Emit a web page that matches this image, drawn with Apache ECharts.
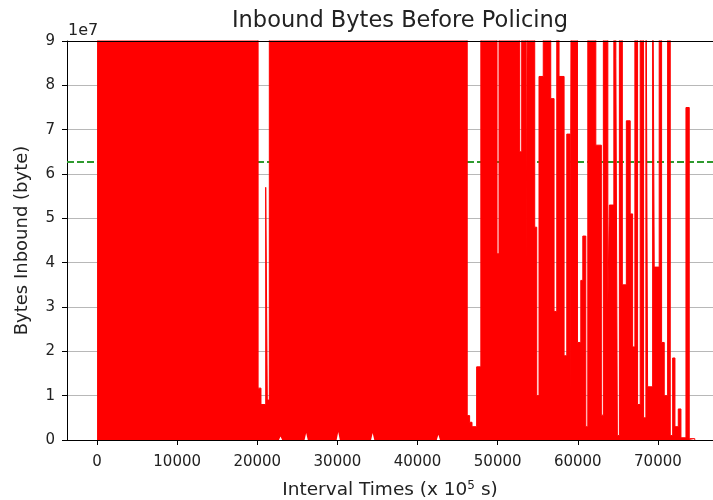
<!DOCTYPE html>
<html>
<head>
<meta charset="utf-8">
<script src="https://cdn.jsdelivr.net/npm/echarts@6/dist/echarts.min.js"></script>
<style>
  html, body { margin: 0; padding: 0; background: #ffffff; }
  #chart { width: 713px; height: 500px; }
</style>
</head>
<body>
<div id="chart"></div>
<script>
// Upper envelope of the inbound-byte trace.
// Each value holds from its interval time until the next one.
const intervalTimes = [
  0, 20100, 20460, 21050, 21250, 21500,
  46200, 46500, 46800, 47375, 47900,
  49920, 50170, 52750, 53000, 53550, 53750,
  54625, 54875, 55160, 55690, 56625, 57040, 57375, 57660, 58290, 58625,
  59040, 59190, 59960, 60375, 60625, 61000, 61250, 62250, 62940, 63190,
  63750, 63940, 64500, 64750, 64940, 65190, 65560, 66060, 66540, 66840,
  67125, 67460, 67790, 68210, 68500, 68710, 69340, 69540, 70160, 70460,
  70790, 71210, 71540, 71840, 72125, 72540, 72875, 73500, 73910, 74600
];
const bytesInbound = [
  120000000, 11700000, 8000000, 57000000, 9000000, 120000000,
  5500000, 4000000, 3000000, 16500000, 120000000,
  42000000, 120000000, 65000000, 120000000, 40000000, 120000000,
  48000000, 10000000, 82000000, 120000000, 77000000, 29000000, 120000000, 82000000, 19000000, 69000000,
  10000000, 120000000, 22000000, 36000000, 46000000, 3000000, 120000000, 66500000, 5600000, 120000000,
  30000000, 53000000, 120000000, 86000000, 1000000, 120000000, 35000000, 72000000, 51000000, 21000000,
  120000000, 8000000, 120000000, 5000000, 120000000, 12000000, 120000000, 39000000, 120000000, 22000000,
  10000000, 120000000, 1000000, 18500000, 3000000, 7000000, 500000, 75000000, 300000, 0
];
// Short stretches where the trace never fell back to zero (lower envelope).
const troughTimes = [22900, 26100, 30100, 34400, 42600];
const troughBytes = [800000, 1600000, 1800000, 1600000, 1200000];
const troughHalfWidth = 200;

const thresholdBytes = 62700000;
const xLimits = [-3750, 76875];
const xTickValues = [0, 10000, 20000, 30000, 40000, 50000, 60000, 70000];
const yTickValues = [0, 1, 2, 3, 4, 5, 6, 7, 8, 9];
const yScale = 1e7;

// Hold each value until the next interval time (explicit corner points).
const trace = [];
intervalTimes.forEach((t, i) => {
  trace.push([t, bytesInbound[i]]);
  if (i + 1 < intervalTimes.length) trace.push([intervalTimes[i + 1], bytesInbound[i]]);
});
const troughs = [];
troughTimes.forEach((t, i) => {
  troughs.push([t - troughHalfWidth, 0], [t, troughBytes[i]], [t + troughHalfWidth, 0]);
});
const threshold = xLimits.map(t => [t, thresholdBytes]);

const font = 'DejaVu Sans';
const chart = echarts.init(document.getElementById('chart'), null, { renderer: 'canvas' });
chart.setOption({
  animation: false,
  backgroundColor: '#ffffff',
  title: {
    text: 'Inbound Bytes Before Policing',
    left: 395,
    top: 5,
    textAlign: 'center',
    textStyle: { fontFamily: font, fontSize: 22.5, fontWeight: 'normal', color: '#222' }
  },
  graphic: [{
    type: 'text',
    left: 68,
    top: 23,
    style: { text: '1e7', font: '16px "DejaVu Sans"', fill: '#222' }
  }],
  grid: { left: 67, right: 0, top: 41, bottom: 60, show: false, containLabel: false, outerBoundsMode: 'none' },
  xAxis: [
    {
      type: 'value',
      z: 10,
      min: xLimits[0],
      max: xLimits[1],
      name: 'Interval Times (x 10{sup|5} s)',
      nameLocation: 'middle',
      nameGap: 40,
      nameTextStyle: {
        fontFamily: font, fontSize: 18.5, color: '#222',
        rich: { sup: { fontFamily: font, fontSize: 12, verticalAlign: 'top', color: '#222', padding: [0, 0, 9, 0] } }
      },
      axisLine: { show: true, onZero: false, lineStyle: { color: '#000', width: 1 } },
      axisTick: { show: true, inside: false, length: 5, lineStyle: { color: '#000' }, customValues: xTickValues },
      axisLabel: {
        fontFamily: font, fontSize: 15, color: '#222', margin: 15, customValues: xTickValues,
        formatter: v => String(v)
      },
      splitLine: { show: false }
    },
    {
      type: 'value',
      z: 10,
      position: 'top',
      min: xLimits[0],
      max: xLimits[1],
      axisLine: { show: true, onZero: false, lineStyle: { color: '#000', width: 1 } },
      axisTick: { show: false },
      axisLabel: { show: false },
      splitLine: { show: false }
    }
  ],
  yAxis: {
    type: 'value',
    min: 0,
    max: 9 * yScale,
    interval: yScale,
    name: 'Bytes Inbound (byte)',
    nameLocation: 'middle',
    nameGap: 36,
    nameTextStyle: { fontFamily: font, fontSize: 18, color: '#222' },
    axisLine: { show: true, onZero: false, lineStyle: { color: '#000', width: 1 } },
    axisTick: { show: true, inside: false, length: 5, lineStyle: { color: '#000' } },
    axisLabel: {
      fontFamily: font, fontSize: 15, color: '#222', margin: 12,
      formatter: v => String(yTickValues[Math.round(v / yScale)])
    },
    splitLine: { show: true, lineStyle: { color: '#b8b8b8', width: 1 } }
  },
  series: [
    {
      name: 'threshold',
      type: 'line',
      xAxisIndex: 0,
      data: threshold,
      symbol: 'none',
      z: 2,
      lineStyle: { color: '#2e9a2e', width: 2, type: [7, 3] },
      silent: true
    },
    {
      name: 'inbound',
      type: 'line',
      xAxisIndex: 0,
      data: trace,
      symbol: 'none',
      clip: true,
      z: 3,
      lineStyle: { color: '#ff0000', width: 1 },
      areaStyle: { color: '#ff0000', opacity: 1 },
      silent: true
    },
    {
      name: 'troughs',
      type: 'line',
      xAxisIndex: 0,
      data: troughs,
      symbol: 'none',
      clip: true,
      z: 4,
      lineStyle: { width: 0, color: '#ffffff' },
      areaStyle: { color: '#ffffff', opacity: 1 },
      silent: true
    }
  ]
});
</script>
</body>
</html>
